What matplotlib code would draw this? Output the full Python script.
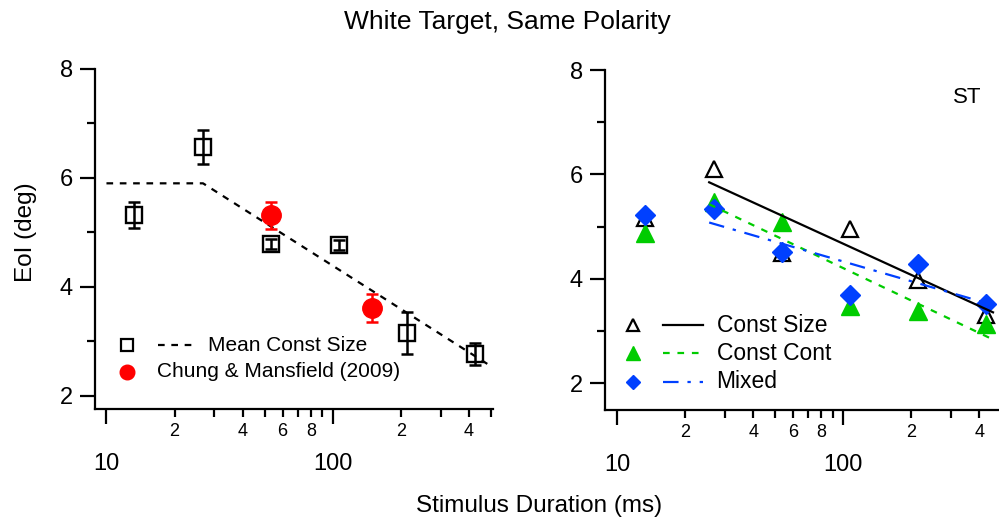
import matplotlib.pyplot as plt
from matplotlib.ticker import FixedLocator, FixedFormatter, NullFormatter

plt.rcParams["font.family"] = ["Liberation Sans", "DejaVu Sans"]

# stimulus durations (ms)
durations = [13.3, 26.7, 53.3, 106.7, 213.3, 426.7]

# left panel: mean const size
mean_size = [5.32, 6.57, 4.78, 4.77, 3.15, 2.77]
mean_size_err = [0.24, 0.31, 0.09, 0.09, 0.38, 0.20]
fit_x = [10, 26.7, 500]
fit_y = [5.90, 5.90, 2.54]

chung_x = [53.3, 148.5]
chung_y = [5.31, 3.61]
chung_err = [0.24, 0.25]

# right panel: subject ST
const_size = [5.16, 6.10, 4.50, 4.95, 3.98, 3.31]
const_cont = [4.88, 5.48, 5.09, 3.48, 3.38, 3.13]
mixed = [5.22, 5.34, 4.52, 3.70, 4.28, 3.52]
line_x = [25.5, 460]
const_size_line = [5.85, 3.36]
const_cont_line = [5.43, 2.84]
mixed_line = [5.08, 3.50]

green = "#00cc00"
blue = "#0040ff"
red = "#ff0000"

major_x = [10, 100]
minor_x = [20, 30, 40, 50, 60, 70, 80, 90, 200, 300, 400, 500]
minor_lbl = ["2", "", "4", "", "6", "", "8", "", "2", "", "4", ""]


def style_axes(ax, xlim, ylim):
    ax.set_xscale("log")
    ax.set_xlim(*xlim)
    ax.set_ylim(*ylim)
    for s in ["top", "right"]:
        ax.spines[s].set_visible(False)
    for s in ["left", "bottom"]:
        ax.spines[s].set_linewidth(1.6)
    ax.xaxis.set_major_locator(FixedLocator(major_x))
    ax.xaxis.set_major_formatter(FixedFormatter(["10", "100"]))
    ax.xaxis.set_minor_locator(FixedLocator(minor_x))
    ax.xaxis.set_minor_formatter(FixedFormatter(minor_lbl))
    ax.yaxis.set_major_locator(FixedLocator([2, 4, 6, 8]))
    ax.yaxis.set_major_formatter(FixedFormatter(["2", "4", "6", "8"]))
    ax.yaxis.set_minor_locator(FixedLocator([3, 5, 7]))
    ax.yaxis.set_minor_formatter(NullFormatter())
    ax.tick_params(axis="both", which="major", length=11, width=1.6,
                   labelsize=17, direction="out")
    ax.tick_params(axis="both", which="minor", length=6, width=1.6,
                   direction="out")
    ax.tick_params(axis="x", which="major", pad=21)
    ax.tick_params(axis="x", which="minor", labelsize=13, pad=4)
    ax.tick_params(axis="y", which="major", pad=5)


fig = plt.figure(figsize=(9.99, 5.19), dpi=100)

# ---- left panel
ax1 = fig.add_axes([0.0951, 0.2119, 0.3984, 0.6552])
style_axes(ax1, (8.9, 510), (1.755, 8))
ax1.plot(fit_x, fit_y, color="black", lw=1.6, linestyle=(0, (3, 3)), zorder=2)
ax1.errorbar(durations, mean_size, yerr=mean_size_err, fmt="none", ecolor="black",
             elinewidth=1.8, capsize=4.5, capthick=1.8, zorder=3)
ax1.plot(durations, mean_size, "s", ms=12, mfc="none", mec="black", mew=1.7, zorder=4)
ax1.errorbar(chung_x, chung_y, yerr=chung_err, fmt="none", ecolor=red,
             elinewidth=1.8, capsize=4.5, capthick=1.8, zorder=3)
ax1.plot(chung_x, chung_y, "o", ms=14, color=red, zorder=4)

# legend (drawn by hand, Igor style)
tr = ax1.transAxes
ax1.plot([0.080], [0.188], "s", ms=8, mfc="none", mec="black", mew=1.6,
         transform=tr, clip_on=False)
ax1.plot([0.158, 0.256], [0.188, 0.188], color="black", lw=1.6,
         linestyle=(0, (3, 3)), transform=tr)
ax1.text(0.284, 0.188, "Mean Const Size", fontsize=15, va="center", transform=tr)
ax1.plot([0.080], [0.109], "o", ms=10.5, color=red, transform=tr)
ax1.text(0.155, 0.109, "Chung & Mansfield (2009)", fontsize=15, va="center",
         transform=tr)

# ---- right panel
ax2 = fig.add_axes([0.6056, 0.2100, 0.3934, 0.6551])
style_axes(ax2, (8.82, 484), (1.49, 8))
ax2.plot(durations, const_size, "^", ms=11.5, mfc="white", mec="black", mew=1.6,
         zorder=3)
ax2.plot(durations, const_cont, "^", ms=12.5, color=green, zorder=4)
ax2.plot(durations, mixed, "D", ms=10, color=blue, zorder=5)
ax2.plot(line_x, const_size_line, color="black", lw=1.6, zorder=6)
ax2.plot(line_x, const_cont_line, color=green, lw=1.6, linestyle=(0, (3, 3.5)),
         zorder=6)
ax2.plot(line_x, mixed_line, color=blue, lw=1.6, linestyle=(0, (7, 4, 1.5, 4)),
         zorder=6)

tr = ax2.transAxes
rows = [0.25, 0.167, 0.083]
ax2.plot([0.072], [rows[0]], "^", ms=8.5, mfc="white", mec="black", mew=1.6,
         transform=tr)
ax2.plot([0.072], [rows[1]], "^", ms=10, color=green, transform=tr)
ax2.plot([0.072], [rows[2]], "D", ms=7.5, color=blue, transform=tr)
ax2.plot([0.148, 0.249], [rows[0]] * 2, color="black", lw=1.6, transform=tr)
ax2.plot([0.148, 0.249], [rows[1]] * 2, color=green, lw=1.6,
         linestyle=(0, (3, 3.5)), transform=tr)
ax2.plot([0.148, 0.249], [rows[2]] * 2, color=blue, lw=1.6,
         linestyle=(0, (7, 4, 1.5, 4)), transform=tr)
for y, lbl in zip(rows, ["Const Size", "Const Cont", "Mixed"]):
    ax2.text(0.284, y, lbl, fontsize=16.5, va="center", transform=tr)
ax2.text(0.921, 0.918, "ST", fontsize=16, ha="center", va="center", transform=tr)

fig.text(0.508, 1 - 22 / 519, "White Target, Same Polarity", fontsize=19,
         ha="center", va="center")
fig.text(0.54, 1 - 506 / 519, "Stimulus Duration (ms)", fontsize=17.5,
         ha="center", va="center")
fig.text(26 / 999, 1 - 232 / 519, "EoI (deg)", fontsize=17.5, rotation=90,
         ha="center", va="center")

fig.savefig("out.png", dpi=100)
